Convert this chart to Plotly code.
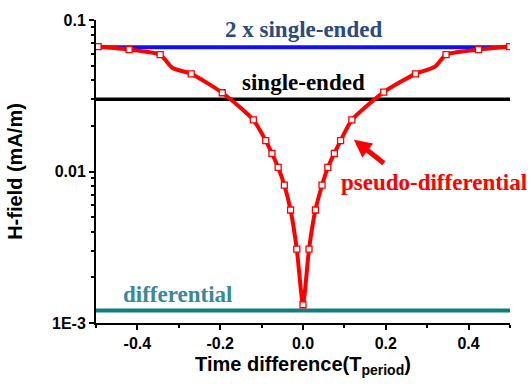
import plotly.graph_objects as go

# ---- data ----
x_markers = [-0.495, -0.42, -0.345, -0.27, -0.195, -0.12, -0.09, -0.075, -0.06, -0.045, -0.03, -0.015, 0.0,
             0.0145, 0.03, 0.046, 0.06, 0.0757, 0.0908, 0.118, 0.195, 0.2716, 0.3455, 0.424, 0.499]
y_markers = [0.0668, 0.0637, 0.0590, 0.0441, 0.0331, 0.0219, 0.0160, 0.01315, 0.01064, 0.00812, 0.00557, 0.00307, 0.00132,
             0.00307, 0.00557, 0.00812, 0.01064, 0.01315, 0.0160, 0.0219, 0.0334, 0.0441, 0.0590, 0.0637, 0.0668]

# curve (includes visible kinks between markers)
x_curve = [-0.495, -0.42, -0.345, -0.315, -0.27, -0.195, -0.12, -0.09, -0.075, -0.06, -0.045, -0.03, -0.015, 0.0,
           0.0145, 0.03, 0.046, 0.06, 0.0757, 0.0908, 0.118, 0.195, 0.2716, 0.318, 0.3455, 0.424, 0.499]
y_curve = [0.0668, 0.0637, 0.0590, 0.0482, 0.0441, 0.0331, 0.0219, 0.0160, 0.01315, 0.01064, 0.00812, 0.00557, 0.00307, 0.00132,
           0.00307, 0.00557, 0.00812, 0.01064, 0.01315, 0.0160, 0.0219, 0.0334, 0.0441, 0.049, 0.0590, 0.0637, 0.0668]

x_span = [-0.5, 0.5]
two_single_ended = 0.066
single_ended = 0.030
differential = 0.00121

x_ticks = [-0.4, -0.2, 0.0, 0.2, 0.4]
x_ticktext = ["-0.4", "-0.2", "0.0", "0.2", "0.4"]
x_minor = [-0.5, -0.3, -0.1, 0.1, 0.3, 0.5]
y_ticks = [0.001, 0.01, 0.1]
y_ticktext = ["1E-3", "0.01", "0.1"]
y_minor = [k * 10 ** e for e in (-3, -2) for k in range(2, 10)]

RED = "#FF0000"
BLUE = "#1010F0"
BLACK = "#000000"
TEAL = "#0E7F7F"

fig = go.Figure()
fig.add_trace(go.Scatter(x=x_span, y=[differential] * 2, mode="lines",
                         line=dict(color=TEAL, width=4), showlegend=False))
fig.add_trace(go.Scatter(x=x_span, y=[single_ended] * 2, mode="lines",
                         line=dict(color=BLACK, width=3.5), showlegend=False))
fig.add_trace(go.Scatter(x=x_span, y=[two_single_ended] * 2, mode="lines",
                         line=dict(color=BLUE, width=4), showlegend=False))
fig.add_trace(go.Scatter(x=x_curve, y=y_curve, mode="lines",
                         line=dict(color=RED, width=4, shape="spline", smoothing=0.6),
                         showlegend=False))
fig.add_trace(go.Scatter(x=x_markers, y=y_markers, mode="markers",
                         marker=dict(symbol="square", size=6, color="white",
                                     line=dict(color=RED, width=1.3)),
                         showlegend=False))

serif = "Liberation Serif"
fig.add_annotation(x=0.0, y=-1.062, xref="x", yref="y", text="<b>2 x single-ended</b>",
                   showarrow=False, font=dict(family=serif, size=23, color="#2A4A80"))
fig.add_annotation(x=0.0, y=-1.413, xref="x", yref="y", text="<b>single-ended</b>",
                   showarrow=False, font=dict(family=serif, size=23, color="#000000"))
fig.add_annotation(x=0.086, y=-2.075, xref="x", yref="y", xanchor="left",
                   text="<b>pseudo-differential</b>",
                   showarrow=False, font=dict(family=serif, size=23, color=RED))
fig.add_annotation(x=-0.44, y=-2.814, xref="x", yref="y", xanchor="left",
                   text="<b>differential</b>",
                   showarrow=False, font=dict(family=serif, size=23, color="#3A8898"))
fig.add_annotation(x=0.123, y=-1.79, ax=0.199, ay=-1.953, xref="x", yref="y",
                   axref="x", ayref="y", text="", showarrow=True,
                   arrowhead=2, arrowsize=0.7, arrowwidth=5, arrowcolor=RED)

fig.update_xaxes(range=[-0.5, 0.5], tickmode="array", tickvals=x_ticks, ticktext=x_ticktext,
                 ticks="outside", ticklen=5, tickwidth=2, tickcolor="black",
                 showline=True, linecolor="black", linewidth=2, showgrid=False, zeroline=False,
                 tickfont=dict(family="Liberation Sans", size=16, color="black", weight="bold"),
                 minor=dict(tickvals=x_minor, ticks="outside", ticklen=3, tickwidth=2, tickcolor="black",
                            showgrid=False),
                 title=dict(text="<b>Time difference(T<sub>period</sub>)</b>",
                            font=dict(family="Liberation Sans", size=20, color="black"), standoff=6))
fig.update_yaxes(type="log", range=[-3, -1], tickmode="array", tickvals=y_ticks, ticktext=y_ticktext,
                 ticks="outside", ticklen=5, tickwidth=2, tickcolor="black",
                 showline=True, linecolor="black", linewidth=2, showgrid=False, zeroline=False,
                 tickfont=dict(family="Liberation Sans", size=16, color="black", weight="bold"),
                 minor=dict(tickvals=y_minor, ticks="outside", ticklen=3, tickwidth=2, tickcolor="black",
                            showgrid=False),
                 title=dict(text="<b>H-field (mA/m)</b>",
                            font=dict(family="Liberation Sans", size=20, color="black"), standoff=24))

fig.update_layout(width=531, height=388, margin=dict(l=96, r=21, t=17, b=65),
                  plot_bgcolor="white", paper_bgcolor="white")
fig.write_html("out.html")
